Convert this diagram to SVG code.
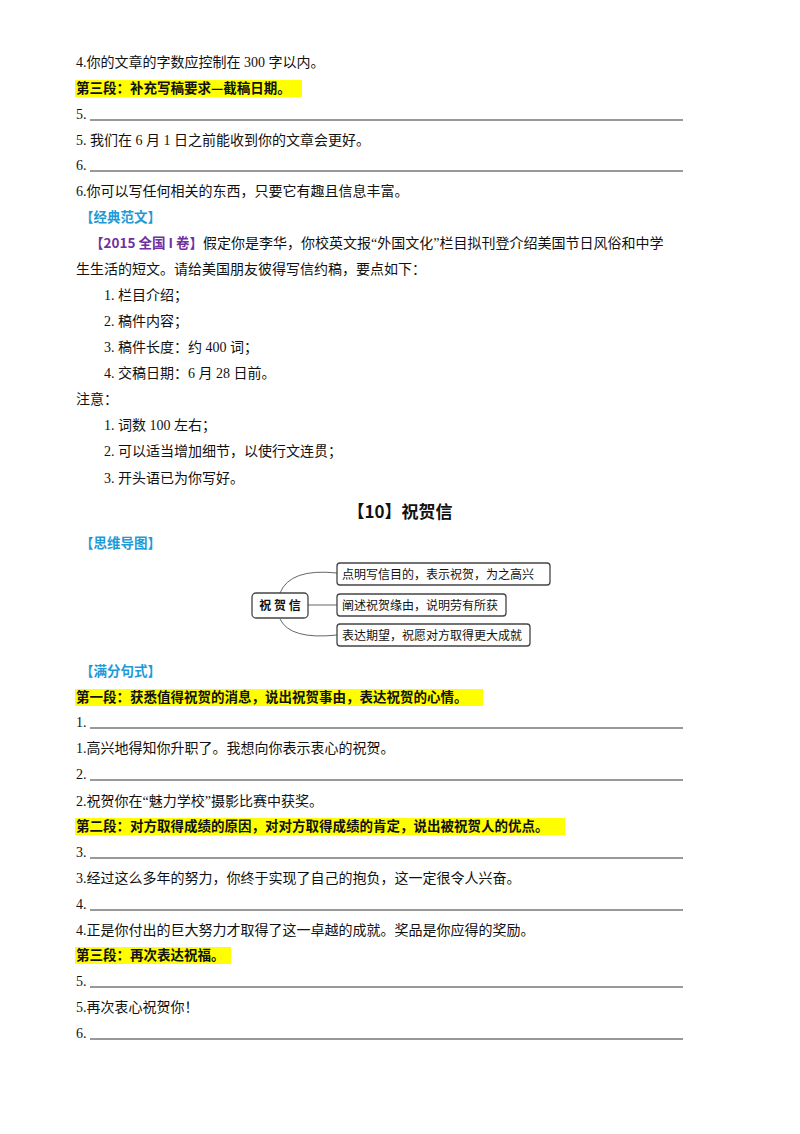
<svg xmlns="http://www.w3.org/2000/svg" width="800" height="1134" viewBox="0 0 800 1134">
<style>
text{font-family:"Liberation Serif","Noto Sans CJK SC",serif;font-size:14px;fill:#111}
.b{font-family:"Noto Sans CJK SC",sans-serif;font-weight:bold;font-size:13.5px}
.blue{fill:#1e9ad6}
.hl{fill:#ffff00}
.ul{stroke:#333;stroke-width:1}
.box{fill:#fff;stroke:#444;stroke-width:1.3}
.m{font-family:"Noto Sans CJK SC",sans-serif;font-size:12px}
.c{fill:none;stroke:#666;stroke-width:1}
</style>
<rect width="800" height="1134" fill="#fff"/>
<text x="76" y="67">4.你的文章的字数应控制在 300 字以内。</text>
<rect class="hl" x="75" y="80" width="227" height="17"/>
<text class="b" x="76" y="93">第三段：补充写稿要求—截稿日期。</text>
<text x="76" y="119">5.</text><line class="ul" x1="90" y1="120" x2="683" y2="120"/>
<text x="76" y="145">5. 我们在 6 月 1 日之前能收到你的文章会更好。</text>
<text x="76" y="170">6.</text><line class="ul" x1="90" y1="171" x2="683" y2="171"/>
<text x="76" y="196">6.你可以写任何相关的东西，只要它有趣且信息丰富。</text>
<text class="b blue" x="80" y="222">【经典范文】</text>
<text x="90" y="248"><tspan class="b" style="fill:#7030a0">【2015 全国 I 卷】</tspan>假定你是李华，你校英文报“外国文化”栏目拟刊登介绍美国节日风俗和中学</text>
<text x="76" y="274">生生活的短文。请给美国朋友彼得写信约稿，要点如下：</text>
<text x="104" y="300">1. 栏目介绍；</text>
<text x="104" y="326">2. 稿件内容；</text>
<text x="104" y="352">3. 稿件长度：约 400 词；</text>
<text x="104" y="378">4. 交稿日期：6 月 28 日前。</text>
<text x="76" y="404">注意：</text>
<text x="104" y="430">1. 词数 100 左右；</text>
<text x="104" y="456">2. 可以适当增加细节，以使行文连贯；</text>
<text x="104" y="483">3. 开头语已为你写好。</text>
<text class="b" x="400" y="518" text-anchor="middle" style="font-size:17px">【10】祝贺信</text>
<text class="b blue" x="80" y="548">【思维导图】</text>
<g id="connectors">
<path class="c" d="M280 593 Q290 568 337 573"/>
<line class="c" x1="308" y1="605" x2="337" y2="605"/>
<path class="c" d="M280 619 Q290 640 337 635"/>
</g>
<g id="center"><rect class="box" x="252" y="593" width="56" height="25" rx="4"/><text class="m b" x="280" y="610" text-anchor="middle">祝 贺 信</text></g>
<g id="n1"><rect class="box" x="337" y="563" width="213" height="22" rx="3"/><text class="m" x="342" y="579">点明写信目的，表示祝贺，为之高兴</text></g>
<g id="n2"><rect class="box" x="337" y="594" width="169" height="22" rx="3"/><text class="m" x="342" y="610">阐述祝贺缘由，说明劳有所获</text></g>
<g id="n3"><rect class="box" x="337" y="624" width="193" height="22" rx="3"/><text class="m" x="342" y="640">表达期望，祝愿对方取得更大成就</text></g>
<text class="b blue" x="80" y="676">【满分句式】</text>
<rect class="hl" x="75" y="689" width="408" height="17"/>
<text class="b" x="76" y="702">第一段：获悉值得祝贺的消息，说出祝贺事由，表达祝贺的心情。</text>
<text x="76" y="727">1.</text><line class="ul" x1="90" y1="728" x2="683" y2="728"/>
<text x="76" y="753">1.高兴地得知你升职了。我想向你表示衷心的祝贺。</text>
<text x="76" y="779">2.</text><line class="ul" x1="90" y1="780" x2="683" y2="780"/>
<text x="76" y="806">2.祝贺你在“魅力学校”摄影比赛中获奖。</text>
<rect class="hl" x="75" y="818" width="490" height="17"/>
<text class="b" x="76" y="831">第二段：对方取得成绩的原因，对对方取得成绩的肯定，说出被祝贺人的优点。</text>
<text x="76" y="857">3.</text><line class="ul" x1="90" y1="858" x2="683" y2="858"/>
<text x="76" y="883">3.经过这么多年的努力，你终于实现了自己的抱负，这一定很令人兴奋。</text>
<text x="76" y="909">4.</text><line class="ul" x1="90" y1="910" x2="683" y2="910"/>
<text x="76" y="935">4.正是你付出的巨大努力才取得了这一卓越的成就。奖品是你应得的奖励。</text>
<rect class="hl" x="75" y="947" width="156" height="17"/>
<text class="b" x="76" y="960">第三段：再次表达祝福。</text>
<text x="76" y="986">5.</text><line class="ul" x1="90" y1="987" x2="683" y2="987"/>
<text x="76" y="1012">5.再次衷心祝贺你！</text>
<text x="76" y="1038">6.</text><line class="ul" x1="90" y1="1039" x2="683" y2="1039"/>
</svg>
